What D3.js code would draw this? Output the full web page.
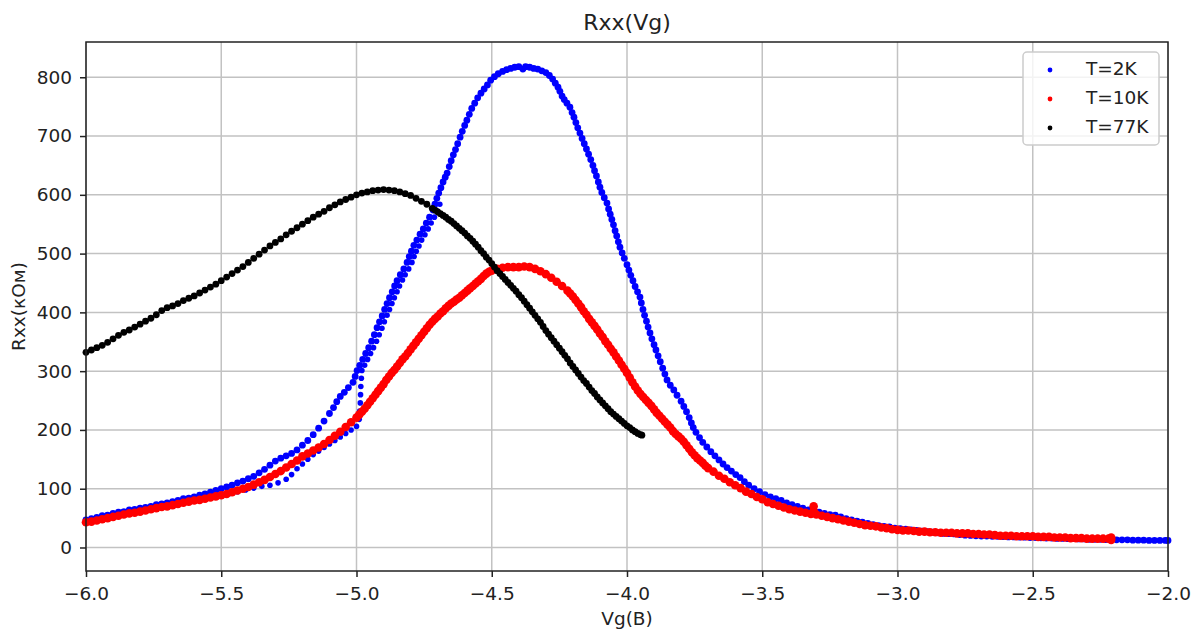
<!DOCTYPE html>
<html>
<head>
<meta charset="utf-8">
<script src="https://cdnjs.cloudflare.com/ajax/libs/d3/7.8.5/d3.min.js"></script>
<style>
	body { margin: 0; background: #fff; }
	svg text { font-family: "DejaVu Sans", sans-serif; fill: #222; }
</style>
</head>
<body>
<div id="chartDiv"></div>
<script>
; (function () {

	var width = 1201;
	var height = 637;
	var margin = { top: 42, right: 33, bottom: 66, left: 86 };

	var titleText = "Rxx(Vg)";
	var xAxisLabelHeader = "Vg(B)";
	var yAxisLabelHeader = "Rxx(кОм)";

	var xDomain = [-6, -2];
	var yDomain = [-40, 860];
	var xTicks = [-6.0, -5.5, -5.0, -4.5, -4.0, -3.5, -3.0, -2.5, -2.0];
	var yTicks = [0, 100, 200, 300, 400, 500, 600, 700, 800];

	var seriesNames = ["T=2K", "T=10K", "T=77K"];
	var seriesColors = ["#0000ff", "#ff0000", "#000000"];

	// T=2K, main sweep [Vg, Rxx]
	var t2K = [
		[-6.00, 47], [-5.98, 49], [-5.96, 51], [-5.94, 54], [-5.92, 55], [-5.90, 58], [-5.88, 60], [-5.86, 61],
		[-5.84, 64], [-5.82, 65], [-5.80, 67], [-5.78, 68], [-5.76, 70], [-5.74, 73], [-5.72, 74], [-5.70, 76],
		[-5.68, 78], [-5.66, 80], [-5.64, 83], [-5.62, 84], [-5.60, 86], [-5.58, 89], [-5.56, 91], [-5.54, 94],
		[-5.52, 97], [-5.50, 100], [-5.48, 103], [-5.46, 106], [-5.44, 110], [-5.42, 113], [-5.40, 117], [-5.38, 121],
		[-5.36, 127], [-5.34, 133], [-5.32, 140], [-5.30, 147], [-5.28, 152], [-5.26, 156], [-5.24, 160], [-5.22, 166],
		[-5.20, 174], [-5.18, 182], [-5.16, 192], [-5.14, 203], [-5.12, 215], [-5.10, 228], [-5.085, 238], [-5.073, 248],
		[-5.06, 257], [-5.045, 264], [-5.03, 272], [-5.013, 281], [-5.005, 291], [-4.998, 301], [-4.988, 310], [-4.977, 320],
		[-4.966, 330], [-4.955, 340], [-4.944, 351], [-4.934, 362], [-4.924, 374], [-4.915, 384], [-4.905, 394], [-4.896, 405],
		[-4.887, 415], [-4.878, 425], [-4.868, 435], [-4.859, 445], [-4.85, 454], [-4.838, 464], [-4.825, 474], [-4.813, 485],
		[-4.805, 495], [-4.797, 504], [-4.788, 514], [-4.777, 523], [-4.765, 533], [-4.753, 542], [-4.742, 552], [-4.73, 562],
		[-4.717, 574], [-4.71, 584], [-4.703, 594], [-4.696, 603], [-4.688, 612], [-4.68, 622], [-4.672, 630], [-4.665, 637],
		[-4.657, 648], [-4.65, 658], [-4.642, 668], [-4.634, 677], [-4.626, 687], [-4.617, 698], [-4.609, 708], [-4.60, 718],
		[-4.592, 727], [-4.583, 737], [-4.574, 747], [-4.563, 756], [-4.552, 765], [-4.54, 773], [-4.528, 780], [-4.516, 787],
		[-4.504, 795], [-4.49, 801], [-4.476, 806], [-4.46, 810], [-4.445, 813], [-4.43, 815], [-4.415, 817], [-4.40, 818],
		[-4.385, 814], [-4.375, 818], [-4.36, 817], [-4.345, 815], [-4.33, 814], [-4.315, 811], [-4.30, 808], [-4.287, 803],
		[-4.275, 797], [-4.265, 790], [-4.255, 783], [-4.248, 776], [-4.24, 768], [-4.232, 762], [-4.222, 756], [-4.211, 749],
		[-4.203, 740], [-4.196, 732], [-4.189, 723], [-4.182, 714], [-4.174, 705], [-4.166, 696], [-4.158, 687], [-4.15, 678],
		[-4.142, 669], [-4.134, 660], [-4.126, 650], [-4.12, 641], [-4.113, 632], [-4.106, 622], [-4.10, 613], [-4.093, 604],
		[-4.084, 595], [-4.074, 586], [-4.068, 576], [-4.062, 567], [-4.056, 558], [-4.05, 549], [-4.044, 539], [-4.038, 530],
		[-4.032, 520], [-4.026, 511], [-4.018, 501], [-4.01, 492], [-4.00, 481], [-3.993, 472], [-3.986, 463], [-3.978, 454],
		[-3.97, 444], [-3.961, 435], [-3.952, 426], [-3.947, 416], [-3.941, 405], [-3.935, 395], [-3.928, 385], [-3.922, 375],
		[-3.915, 365], [-3.908, 355], [-3.90, 345], [-3.893, 336], [-3.885, 326], [-3.877, 316], [-3.868, 305], [-3.86, 295],
		[-3.852, 285], [-3.84, 276], [-3.827, 268], [-3.815, 259], [-3.80, 249], [-3.79, 240], [-3.78, 231], [-3.77, 221],
		[-3.762, 212], [-3.755, 204], [-3.745, 196], [-3.732, 187], [-3.72, 179], [-3.705, 171], [-3.69, 163], [-3.675, 156],
		[-3.66, 149], [-3.645, 142], [-3.63, 136], [-3.614, 130], [-3.598, 124], [-3.582, 119], [-3.566, 112], [-3.55, 106],
		[-3.53, 100], [-3.51, 95], [-3.49, 90], [-3.47, 86], [-3.45, 83], [-3.43, 80], [-3.41, 76], [-3.39, 73],
		[-3.37, 70], [-3.35, 67], [-3.33, 64], [-3.31, 61], [-3.29, 60], [-3.27, 58], [-3.25, 56], [-3.23, 55],
		[-3.21, 52], [-3.19, 49], [-3.17, 47], [-3.15, 45], [-3.13, 43], [-3.11, 41], [-3.09, 39], [-3.07, 37],
		[-3.05, 36], [-3.03, 35], [-3.01, 33], [-2.99, 32], [-2.97, 31], [-2.95, 30], [-2.93, 29], [-2.91, 28],
		[-2.89, 27], [-2.87, 26], [-2.85, 25], [-2.83, 24], [-2.81, 23.5], [-2.79, 23], [-2.77, 22], [-2.75, 21],
		[-2.73, 20.5], [-2.71, 20], [-2.69, 19.5], [-2.67, 19.5], [-2.65, 19], [-2.63, 19], [-2.61, 18.5], [-2.59, 18],
		[-2.57, 18], [-2.55, 17.5], [-2.53, 17.5], [-2.51, 17], [-2.49, 17], [-2.47, 16.5], [-2.45, 16], [-2.43, 16],
		[-2.41, 15.5], [-2.39, 15.5], [-2.37, 15], [-2.35, 15], [-2.33, 14.5], [-2.31, 14.5], [-2.29, 14], [-2.27, 14],
		[-2.25, 14], [-2.23, 13.5], [-2.21, 13.5], [-2.19, 13], [-2.17, 13], [-2.15, 13], [-2.13, 12.5], [-2.11, 12.5],
		[-2.09, 12.5], [-2.07, 12], [-2.05, 12], [-2.03, 12], [-2.01, 12], [-2.00, 12]
	];

	// T=2K, second (hysteresis) sweep
	var t2KSweep2 = [
		[-5.47, 92], [-5.44, 95], [-5.41, 98], [-5.38, 101], [-5.35, 104], [-5.32, 106], [-5.29, 110], [-5.26, 116],
		[-5.24, 124], [-5.22, 134], [-5.20, 142], [-5.18, 150], [-5.16, 158], [-5.14, 164], [-5.12, 170], [-5.10, 176],
		[-5.08, 182], [-5.06, 188], [-5.04, 194], [-5.02, 200], [-5.00, 206], [-4.99, 218], [-4.988, 232], [-4.986, 246],
		[-4.985, 260], [-4.984, 274], [-4.982, 288], [-4.980, 301], [-4.970, 310], [-4.959, 320], [-4.948, 330], [-4.937, 340],
		[-4.926, 351], [-4.916, 362], [-4.906, 373], [-4.897, 384], [-4.887, 395], [-4.878, 405], [-4.869, 415], [-4.86, 425],
		[-4.85, 435], [-4.841, 445], [-4.83, 455], [-4.82, 464], [-4.807, 474], [-4.795, 485], [-4.787, 495], [-4.779, 504],
		[-4.769, 513], [-4.759, 523], [-4.747, 532], [-4.735, 542], [-4.724, 552], [-4.712, 562], [-4.702, 573], [-4.692, 584]
	];

	// T=10K
	var t10K = [
		[-6.00, 43], [-5.98, 44], [-5.96, 46], [-5.94, 48], [-5.92, 50], [-5.90, 52], [-5.88, 54], [-5.86, 56],
		[-5.84, 58], [-5.82, 59], [-5.80, 61], [-5.78, 63], [-5.76, 65], [-5.74, 67], [-5.72, 69], [-5.70, 70],
		[-5.68, 72], [-5.66, 74], [-5.64, 76], [-5.62, 78], [-5.60, 80], [-5.58, 81], [-5.56, 83], [-5.54, 85],
		[-5.52, 87], [-5.50, 89], [-5.48, 91], [-5.46, 94], [-5.44, 97], [-5.42, 100], [-5.40, 103], [-5.38, 107],
		[-5.36, 111], [-5.34, 115], [-5.32, 120], [-5.30, 125], [-5.28, 130], [-5.26, 136], [-5.24, 142], [-5.22, 148],
		[-5.20, 155], [-5.18, 160], [-5.16, 165], [-5.14, 170], [-5.12, 176], [-5.10, 183], [-5.08, 190], [-5.06, 197],
		[-5.04, 205], [-5.02, 213], [-5.00, 221], [-4.99, 226], [-4.98, 231], [-4.97, 236], [-4.96, 242], [-4.95, 248],
		[-4.94, 254], [-4.93, 260], [-4.92, 266], [-4.91, 272], [-4.90, 278], [-4.89, 285], [-4.88, 291], [-4.87, 297],
		[-4.86, 302], [-4.85, 308], [-4.84, 314], [-4.83, 320], [-4.82, 325], [-4.81, 331], [-4.80, 337], [-4.79, 343],
		[-4.78, 349], [-4.77, 355], [-4.76, 361], [-4.75, 367], [-4.74, 373], [-4.73, 379], [-4.72, 384], [-4.71, 389],
		[-4.70, 393], [-4.69, 398], [-4.68, 402], [-4.67, 407], [-4.66, 411], [-4.65, 415], [-4.64, 418], [-4.63, 422],
		[-4.62, 425], [-4.61, 429], [-4.60, 433], [-4.59, 437], [-4.58, 441], [-4.57, 445], [-4.56, 449], [-4.55, 453],
		[-4.54, 457], [-4.53, 462], [-4.52, 466], [-4.51, 469], [-4.50, 471], [-4.48, 474], [-4.46, 476], [-4.44, 477],
		[-4.42, 477], [-4.40, 477], [-4.38, 478], [-4.36, 477], [-4.34, 474], [-4.32, 470], [-4.30, 465], [-4.28, 459],
		[-4.26, 452], [-4.24, 445], [-4.22, 437], [-4.21, 432], [-4.20, 427], [-4.19, 421], [-4.18, 415], [-4.17, 409],
		[-4.16, 402], [-4.15, 396], [-4.14, 389], [-4.13, 383], [-4.12, 377], [-4.11, 371], [-4.10, 364], [-4.09, 358],
		[-4.08, 351], [-4.07, 345], [-4.06, 338], [-4.05, 332], [-4.04, 325], [-4.03, 318], [-4.02, 311], [-4.01, 304],
		[-4.00, 297], [-3.99, 289], [-3.98, 281], [-3.97, 274], [-3.96, 267], [-3.95, 261], [-3.94, 256], [-3.93, 251],
		[-3.92, 246], [-3.91, 241], [-3.90, 235], [-3.89, 229], [-3.88, 224], [-3.87, 219], [-3.86, 214], [-3.85, 209],
		[-3.84, 204], [-3.83, 198], [-3.82, 193], [-3.81, 189], [-3.80, 185], [-3.79, 180], [-3.78, 174], [-3.77, 168],
		[-3.76, 162], [-3.75, 157], [-3.74, 152], [-3.73, 148], [-3.72, 144], [-3.71, 139], [-3.70, 135], [-3.68, 129],
		[-3.66, 122], [-3.64, 117], [-3.62, 111], [-3.60, 106], [-3.58, 101], [-3.56, 95], [-3.54, 91], [-3.52, 86],
		[-3.50, 82], [-3.48, 77], [-3.46, 74], [-3.44, 71], [-3.42, 68], [-3.40, 65], [-3.38, 63], [-3.36, 61],
		[-3.34, 59], [-3.32, 57], [-3.31, 70], [-3.31, 62], [-3.30, 56], [-3.28, 54], [-3.26, 52], [-3.24, 50],
		[-3.22, 48], [-3.20, 46], [-3.18, 44], [-3.16, 42], [-3.14, 40], [-3.12, 38], [-3.10, 37], [-3.08, 36],
		[-3.06, 34], [-3.04, 33], [-3.02, 31], [-3.00, 30], [-2.98, 29], [-2.96, 29], [-2.94, 28], [-2.92, 27],
		[-2.90, 27], [-2.88, 26], [-2.86, 26], [-2.84, 25], [-2.82, 25], [-2.80, 25], [-2.78, 24], [-2.76, 24],
		[-2.74, 24], [-2.72, 23], [-2.70, 23], [-2.68, 22], [-2.66, 22], [-2.64, 21], [-2.62, 20], [-2.60, 20],
		[-2.58, 20], [-2.56, 19], [-2.54, 19], [-2.52, 19], [-2.50, 19], [-2.48, 18], [-2.46, 18], [-2.44, 18],
		[-2.42, 17], [-2.40, 17], [-2.38, 17], [-2.36, 16], [-2.34, 16], [-2.32, 16], [-2.30, 15], [-2.28, 15],
		[-2.26, 15], [-2.24, 15], [-2.22, 15], [-2.21, 13], [-2.21, 17]
	];

	// T=77K
	var t77K = [
		[-6.00, 332], [-5.98, 336], [-5.96, 340], [-5.94, 344], [-5.92, 349], [-5.90, 355], [-5.88, 361], [-5.86, 366],
		[-5.84, 370], [-5.82, 375], [-5.80, 380], [-5.78, 385], [-5.76, 390], [-5.74, 396], [-5.72, 403], [-5.70, 408],
		[-5.68, 411], [-5.66, 415], [-5.64, 420], [-5.62, 424], [-5.60, 428], [-5.58, 433], [-5.56, 438], [-5.54, 443],
		[-5.52, 448], [-5.50, 454], [-5.48, 460], [-5.46, 466], [-5.44, 472], [-5.42, 478], [-5.40, 485], [-5.38, 492],
		[-5.36, 499], [-5.34, 506], [-5.32, 513], [-5.30, 519], [-5.28, 525], [-5.26, 532], [-5.24, 538], [-5.22, 544],
		[-5.20, 550], [-5.18, 556], [-5.16, 562], [-5.14, 567], [-5.12, 572], [-5.10, 578], [-5.08, 583], [-5.06, 588],
		[-5.04, 592], [-5.02, 596], [-5.00, 600], [-4.98, 603], [-4.96, 605], [-4.94, 607], [-4.92, 608], [-4.90, 609],
		[-4.88, 608], [-4.86, 607], [-4.84, 605], [-4.82, 602], [-4.80, 599], [-4.78, 594], [-4.76, 589], [-4.74, 584],
		[-4.72, 577], [-4.71, 574], [-4.70, 571], [-4.69, 568], [-4.68, 565], [-4.67, 562], [-4.66, 558], [-4.65, 555],
		[-4.64, 551], [-4.63, 547], [-4.62, 543], [-4.61, 539], [-4.60, 535], [-4.59, 530], [-4.58, 526], [-4.57, 521],
		[-4.56, 516], [-4.55, 511], [-4.54, 505], [-4.53, 500], [-4.52, 494], [-4.51, 489], [-4.50, 483], [-4.49, 477],
		[-4.48, 471], [-4.47, 466], [-4.46, 461], [-4.45, 456], [-4.44, 451], [-4.43, 446], [-4.42, 441], [-4.41, 436],
		[-4.40, 430], [-4.39, 425], [-4.38, 419], [-4.37, 413], [-4.36, 407], [-4.35, 401], [-4.34, 395], [-4.33, 389],
		[-4.32, 383], [-4.31, 376], [-4.30, 369], [-4.29, 363], [-4.28, 357], [-4.27, 351], [-4.26, 345], [-4.25, 339],
		[-4.24, 333], [-4.23, 327], [-4.22, 321], [-4.21, 314], [-4.20, 308], [-4.19, 302], [-4.18, 296], [-4.17, 290],
		[-4.16, 284], [-4.15, 279], [-4.14, 273], [-4.13, 267], [-4.12, 262], [-4.11, 256], [-4.10, 251], [-4.09, 246],
		[-4.08, 241], [-4.07, 236], [-4.06, 231], [-4.05, 227], [-4.04, 223], [-4.03, 219], [-4.02, 215], [-4.01, 211],
		[-4.00, 207], [-3.99, 204], [-3.98, 200], [-3.97, 197], [-3.96, 194], [-3.95, 192], [-3.945, 191]
	];

	var chart;
	var chartWidth;
	var chartHeight;

	init();

	function init() {
		chartWidth = width - margin.left - margin.right;
		chartHeight = height - margin.top - margin.bottom;

		initializeChart();
		createAxes();
		drawPoints();
		drawFrame();
		drawLegend();
	}

	function initializeChart() {
		chart = d3.select("#chartDiv").append("svg")
			.attr("width", width)
			.attr("height", height);

		chart.plotArea = chart.append("g")
			.attr("transform", "translate(" + margin.left + "," + margin.top + ")");

		chart.xScale = d3.scaleLinear().domain(xDomain).range([0, chartWidth]);
		chart.yScale = d3.scaleLinear().domain(yDomain).range([chartHeight, 0]);
	}

	function createAxes() {
		// grid
		chart.plotArea.append("g").selectAll("line.vgrid")
			.data(xTicks).join("line")
			.attr("x1", function (d) { return chart.xScale(d); })
			.attr("x2", function (d) { return chart.xScale(d); })
			.attr("y1", 0).attr("y2", chartHeight)
			.attr("stroke", "#c2c2c2").attr("stroke-width", 1.5);

		chart.plotArea.append("g").selectAll("line.hgrid")
			.data(yTicks).join("line")
			.attr("y1", function (d) { return chart.yScale(d); })
			.attr("y2", function (d) { return chart.yScale(d); })
			.attr("x1", 0).attr("x2", chartWidth)
			.attr("stroke", "#c2c2c2").attr("stroke-width", 1.5);

		chart.xAxis = d3.axisBottom(chart.xScale)
			.tickValues(xTicks)
			.tickFormat(d3.format(".1f"))
			.tickSizeInner(6)
			.tickSizeOuter(0)
			.tickPadding(10);

		chart.yAxis = d3.axisLeft(chart.yScale)
			.tickValues(yTicks)
			.tickFormat(d3.format("d"))
			.tickSizeInner(6)
			.tickSizeOuter(0)
			.tickPadding(8);

		chart.xAxisContainer = chart.append("g")
			.attr("transform", "translate(" + margin.left + "," + (margin.top + chartHeight) + ")")
			.call(chart.xAxis);

		chart.yAxisContainer = chart.append("g")
			.attr("transform", "translate(" + margin.left + "," + margin.top + ")")
			.call(chart.yAxis);

		[chart.xAxisContainer, chart.yAxisContainer].forEach(function (g) {
			g.attr("font-size", null).attr("font-family", null);
			g.select(".domain").remove();
			g.selectAll(".tick line").attr("stroke", "#222").attr("stroke-width", 1.5);
			g.selectAll(".tick text").style("font-size", "18.5px");
		});

		chart.append("text")
			.attr("text-anchor", "middle")
			.style("font-size", "22px")
			.attr("x", margin.left + chartWidth / 2.0)
			.attr("y", 30)
			.text(titleText);

		chart.append("text")
			.attr("text-anchor", "middle")
			.style("font-size", "18.5px")
			.attr("x", margin.left + chartWidth / 2.0)
			.attr("y", 625)
			.text(xAxisLabelHeader);

		chart.append("text")
			.attr("text-anchor", "middle")
			.style("font-size", "18.5px")
			.attr("transform", "translate(25," + (margin.top + chartHeight / 2.0) + ") rotate(-90)")
			.text(yAxisLabelHeader);
	}

	function drawPoints() {
		var layers = [
			{ data: t2K, color: seriesColors[0], r: 3.4 },
			{ data: t2KSweep2, color: seriesColors[0], r: 2.8 },
			{ data: t10K, color: seriesColors[1], r: 4.3 },
			{ data: t77K, color: seriesColors[2], r: 3.4 }
		];

		layers.forEach(function (layer) {
			chart.plotArea.append("g")
				.selectAll("circle")
				.data(layer.data)
				.join("circle")
				.attr("cx", function (d) { return chart.xScale(d[0]); })
				.attr("cy", function (d) { return chart.yScale(d[1]); })
				.attr("r", layer.r)
				.attr("fill", layer.color);
		});
	}

	function drawFrame() {
		chart.plotArea.append("rect")
			.attr("width", chartWidth)
			.attr("height", chartHeight)
			.attr("fill", "none")
			.attr("stroke", "#222")
			.attr("stroke-width", 1.5);
	}

	function drawLegend() {
		var legend = chart.append("g").attr("transform", "translate(1023,52)");

		legend.append("rect")
			.attr("width", 136)
			.attr("height", 93)
			.attr("rx", 4)
			.attr("fill", "#fff")
			.attr("fill-opacity", 0.8)
			.attr("stroke", "#cccccc")
			.attr("stroke-width", 1.5);

		var rows = legend.selectAll("g.row")
			.data(seriesNames)
			.join("g")
			.attr("transform", function (d, i) { return "translate(0," + (18 + i * 29) + ")"; });

		rows.append("circle")
			.attr("cx", 27)
			.attr("cy", 0)
			.attr("r", 2.4)
			.attr("fill", function (d, i) { return seriesColors[i]; });

		rows.append("text")
			.attr("x", 63)
			.attr("y", 5)
			.style("font-size", "18.5px")
			.text(function (d) { return d; });
	}

})();
</script>
</body>
</html>
